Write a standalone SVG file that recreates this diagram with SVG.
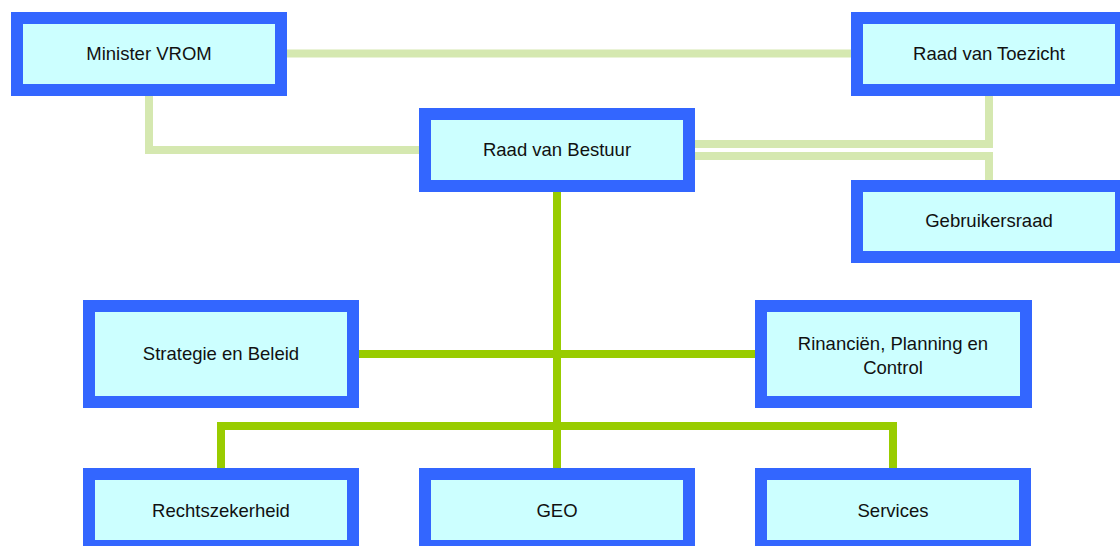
<svg xmlns="http://www.w3.org/2000/svg" width="1120" height="546" viewBox="0 0 1120 546">
<style>
.box rect{fill:#ccffff;stroke:#3366ff;stroke-width:12}
.box text{font-family:"Liberation Sans",Arial,sans-serif;font-size:18.5px;fill:#111;text-anchor:middle}
.pale{fill:none;stroke:#d5e8b0;stroke-width:8}
.bright{fill:none;stroke:#99cc00;stroke-width:8}
</style>
<rect width="1120" height="546" fill="#ffffff"/>
<g id="connectors">
<path class="pale" d="M287,53.5 H851"/>
<path class="pale" d="M149,96 V150 H419"/>
<path class="pale" d="M989,96 V144 H695"/>
<path class="pale" d="M695,156 H989 V180"/>
<path class="bright" d="M557,192 V468"/>
<path class="bright" d="M359,354 H755"/>
<path class="bright" d="M221,468 V426 H893 V468"/>
</g>
<g id="minister-vrom" class="box"><rect x="17" y="18" width="264" height="72"/><text x="149" y="60">Minister VROM</text></g>
<g id="raad-van-toezicht" class="box"><rect x="857" y="18" width="264" height="72"/><text x="989" y="60">Raad van Toezicht</text></g>
<g id="raad-van-bestuur" class="box"><rect x="425" y="114" width="264" height="72"/><text x="557" y="156">Raad van Bestuur</text></g>
<g id="gebruikersraad" class="box"><rect x="857" y="186" width="264" height="71"/><text x="989" y="227">Gebruikersraad</text></g>
<g id="strategie-en-beleid" class="box"><rect x="89" y="306" width="264" height="96"/><text x="221" y="360">Strategie en Beleid</text></g>
<g id="financien" class="box"><rect x="761" y="306" width="265" height="96"/><text x="893" y="350">Rinanciën, Planning en</text><text x="893" y="374">Control</text></g>
<g id="rechtszekerheid" class="box"><rect x="89" y="474" width="264" height="72"/><text x="221" y="517">Rechtszekerheid</text></g>
<g id="geo" class="box"><rect x="425" y="474" width="264" height="72"/><text x="557" y="517">GEO</text></g>
<g id="services" class="box"><rect x="761" y="474" width="264" height="72"/><text x="893" y="517">Services</text></g>
</svg>
